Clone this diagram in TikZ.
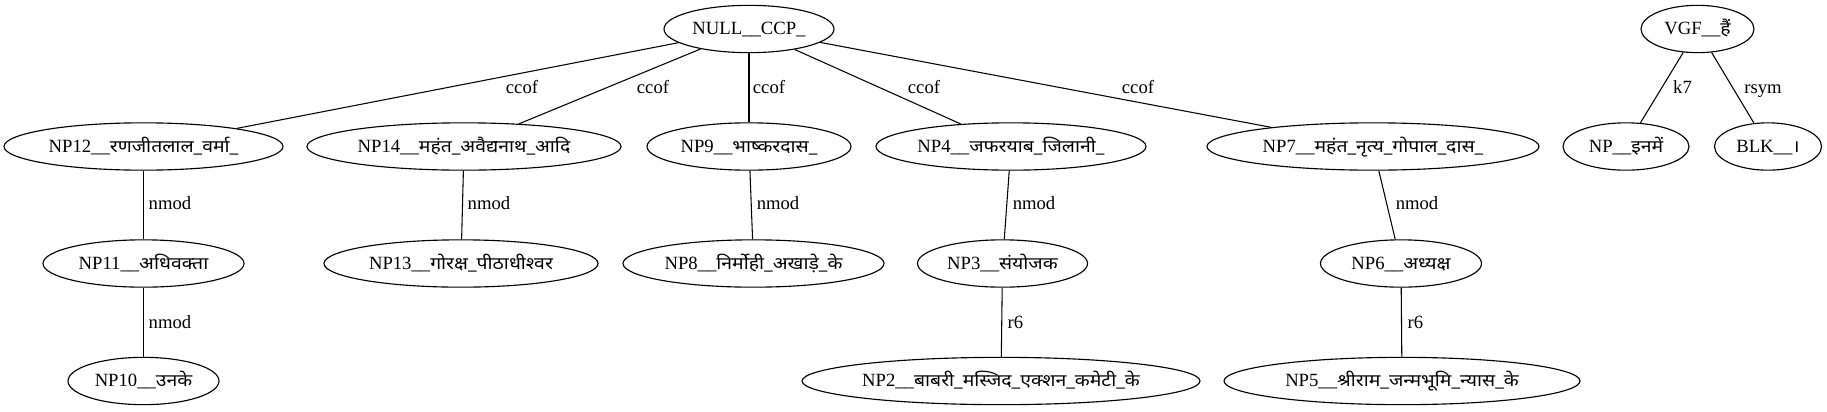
\documentclass[tikz,border=0pt]{standalone}
\usepackage{fontspec}
\usetikzlibrary{shapes.geometric}
\setmainfont{Liberation Serif}
\newfontfamily\devfont[Script=Devanagari,Scale=0.92,FakeStretch=1.13]{Noto Sans}
\newcommand{\hin}[1]{{\devfont #1}}
\tikzset{
  gn/.style={ellipse, draw, line width=0.85pt, inner sep=0pt, minimum height=35.5pt,
    text height=11pt, text depth=2.2pt, font=\fontsize{14}{16}\selectfont},
  ew/.style={minimum width=#1*0.75pt},
  lbl/.style={anchor=base, inner sep=0pt, font=\fontsize{14}{16}\selectfont},
  ed/.style={line width=0.8pt}
}
\newcommand{\tx}[1]{\makebox[0pt][c]{#1}}
\begin{document}
\begin{tikzpicture}[x=0.75pt,y=-0.75pt]
\useasboundingbox (0,0) rectangle (1827,411);
% rank 0
\node[gn,ew=170] (null) at (749,29) {\tx{NULL\_\_CCP\_}};
\node[gn,ew=113] (vgf) at (1697.5,29) {\tx{VGF\_\_\hin{हैं}}};
% rank 1
\node[gn,ew=279] (np12) at (143.5,146.5) {\tx{NP12\_\_\hin{रणजीतलाल\_वर्मा\_}}};
\node[gn,ew=314] (np14) at (464,146.5) {\tx{NP14\_\_\hin{महंत\_अवैद्यनाथ\_आदि}}};
\node[gn,ew=204] (np9) at (749,146.5) {\tx{NP9\_\_\hin{भाष्करदास\_}}};
\node[gn,ew=270] (np4) at (1011,146.5) {\tx{NP4\_\_\hin{जफरयाब\_जिलानी\_}}};
\node[gn,ew=332] (np7) at (1373,146.5) {\tx{NP7\_\_\hin{महंत\_नृत्य\_गोपाल\_दास\_}}};
\node[gn,ew=126] (npin) at (1626,146.5) {\tx{NP\_\_\hin{इनमें}}};
\node[gn,ew=107] (blk) at (1768,146.5) {\tx{BLK\_\_\hin{।}}};
% rank 2
\node[gn,ew=201] (np11) at (143.5,263.5) {\tx{NP11\_\_\hin{अधिवक्ता}}};
\node[gn,ew=274] (np13) at (461,263.5) {\tx{NP13\_\_\hin{गोरक्ष\_पीठाधीश्वर}}};
\node[gn,ew=261] (np8) at (753.5,263.5) {\tx{NP8\_\_\hin{निर्मोही\_अखाड़े\_के}}};
\node[gn,ew=170] (np3) at (1002.5,263.5) {\tx{NP3\_\_\hin{संयोजक}}};
\node[gn,ew=161] (np6) at (1401,263.5) {\tx{NP6\_\_\hin{अध्यक्ष}}};
% rank 3
\node[gn,ew=151] (np10) at (143.5,381) {\tx{NP10\_\_\hin{उनके}}};
\node[gn,ew=398] (np2) at (1001,381) {\tx{NP2\_\_\hin{बाबरी\_मस्जिद\_एक्शन\_कमेटी\_के}}};
\node[gn,ew=356] (np5) at (1402,381) {\tx{NP5\_\_\hin{श्रीराम\_जन्मभूमि\_न्यास\_के}}};
% edges
\draw[ed] (null) -- (np12);
\draw[ed] (null) -- (np14);
\draw[ed] (null) -- (np9);
\draw[ed] (null) -- (np4);
\draw[ed] (null) -- (np7);
\draw[ed] (vgf) -- (npin);
\draw[ed] (vgf) -- (blk);
\draw[ed] (np12) -- (np11);
\draw[ed] (np14) -- (np13);
\draw[ed] (np9) -- (np8);
\draw[ed] (np4) -- (np3);
\draw[ed] (np7) -- (np6);
\draw[ed] (np11) -- (np10);
\draw[ed] (np3) -- (np2);
\draw[ed] (np6) -- (np5);
% edge labels
\node[lbl] (l12) at (522,93) {ccof};
\node[lbl] (l14) at (653,93) {ccof};
\node[lbl] (l9) at (769,93) {ccof};
\node[lbl] (l4) at (924,93) {ccof};
\node[lbl] (l7) at (1138,93) {ccof};
\node[lbl] (lk7) at (1682.5,93) {k7};
\node[lbl] (lrs) at (1763,93) {rsym};
\node[lbl] (l11) at (170,209) {nmod};
\node[lbl] (l13) at (489,209) {nmod};
\node[lbl] (l8) at (778,209) {nmod};
\node[lbl] (l3) at (1034,209) {nmod};
\node[lbl] (l6) at (1417,209) {nmod};
\node[lbl] (l10) at (170,328) {nmod};
\node[lbl] (l2) at (1015.5,328) {r6};
\node[lbl] (l5) at (1415.5,328) {r6};
\end{tikzpicture}
\end{document}
